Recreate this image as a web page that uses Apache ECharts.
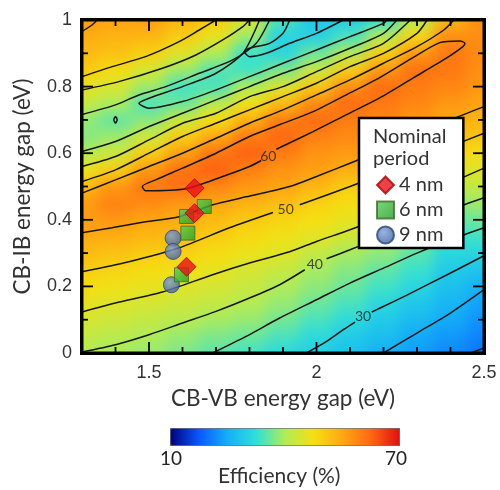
<!DOCTYPE html>
<html><head><meta charset="utf-8">
<script src="https://cdn.jsdelivr.net/npm/echarts@6/dist/echarts.min.js"></script>
<style>
html,body{margin:0;padding:0;background:#fff;width:500px;height:490px;overflow:hidden}
#clip{position:absolute;z-index:1;left:82px;top:20px;width:402px;height:333px;overflow:hidden}
#bg{position:absolute;left:-24px;top:-24px;width:450px;height:381px;filter:blur(7px)}
#main{position:absolute;z-index:5;left:0;top:0;width:500px;height:490px}
#frame{position:absolute;z-index:50;left:80px;top:18px;width:406px;height:337px;box-sizing:border-box;border:3px solid #000;pointer-events:none}
</style></head><body>
<div id="clip"><div id="bg"></div></div>
<div id="main"></div>
<div id="frame"></div>
<script>
// ---------- data ----------
const xGrid = [1.3,1.4,1.5,1.6,1.7,1.8,1.9,2.0,2.1,2.2,2.3,2.4,2.5];
const yGrid = [0,0.05,0.1,0.15,0.2,0.25,0.3,0.35,0.4,0.45,0.5,0.55,0.6,0.65,0.7,0.75,0.8,0.85,0.9,0.95,1.0];
// efficiency (%) per column x, from y=0 to y=1
const effX130 = [40,42,44,46,48,50,52.5,54.5,56.5,56.5,53,47,40.5,37.5,38.5,42,46,50.5,52.5,54.5,56.5];
const effX140 = [39.5,41,43,45,47,49,51.5,54,57,59.5,57,50,43,39,35.5,40,44,48,51.5,53.5,55.5];
const effX150 = [38.5,40,42,44,46,48,50,53,55,58.5,60.5,57,50,43,38,34,39,44,49.5,53,56];
const effX160 = [37,38.5,41,43,45,47,49.5,52,54.5,57,61.5,61.5,56,50,43,36,33.5,39,45,50,53];
const effX170 = [35,37,39.5,42,44,46,48,50,52.5,55,59,63,61,55,48,41,34,34.5,40,46,50];
const effX180 = [33.5,36,38.5,40.5,42.5,44,46.5,48.5,50.5,53.5,57,59.5,63,60,54,47,40,33.5,33,39,44];
const effX190 = [31,34,36.5,38.5,40,42.5,45,47,49,52,55.5,57.5,60,62.5,60,52.5,45,37,31,30.5,34];
const effX200 = [29.5,31.5,34,36,38,39.5,42,45.5,47.5,49.5,53,56,57.5,59.5,62,58.5,51,43,36,30,29];
const effX210 = [27.5,29,31.5,34,36,37.5,39.5,43.5,46,48,50,54,56.5,58.5,60,62,58,50,41,34,29.5];
const effX220 = [25,27,29,31,33.5,35.5,38,40,44,46.5,49,51.5,55,57,59,60.5,62,57,50,41,33];
const effX230 = [23.5,24.5,26.5,28.5,31,33,35,37.5,40,44,46.5,49,52,55,57,59,60,61.5,57,49,41];
const effX240 = [21.5,23,24.5,26,27.5,29,31,33,35,38,41.5,45,48.5,51.5,55,57,59,60.5,60.5,58,53];
const effX250 = [19.8,21.2,22.5,23.8,25.3,28,30.6,33.5,36.3,39,42,45,48,51,53.5,55.5,57,58,58.5,58,58];
const effColumns = [effX130,effX140,effX150,effX160,effX170,effX180,effX190,effX200,effX210,effX220,effX230,effX240,effX250];

// contour lines (x eV, y eV)
const c20 = [[2.46,0],[2.5,0.015]];
const c25 = [[2.2,0],[2.3,0.06],[2.4,0.12],[2.5,0.19]];
const c30a = [[1.97,0],[2.03,0.035],[2.08,0.07],[2.115,0.093]];
const c30b = [[2.165,0.123],[2.19,0.135],[2.27,0.174],[2.39,0.235],[2.5,0.292]];
const c35 = [[1.69,0],[1.79,0.05],[1.89,0.105],[2.0,0.16],[2.1,0.21],[2.2,0.255],[2.3,0.3],[2.4,0.34],[2.5,0.376]];
const c40a = [[1.3,0.003],[1.4,0.025],[1.5,0.055],[1.6,0.09],[1.7,0.125],[1.8,0.165],[1.89,0.205],[1.965,0.25]];
const c40b = [[2.03,0.283],[2.1,0.31],[2.2,0.35],[2.3,0.39],[2.4,0.43],[2.5,0.466]];
const c45 = [[1.3,0.123],[1.4,0.15],[1.54,0.183],[1.69,0.235],[1.8,0.27],[1.92,0.304],[2.0,0.335],[2.1,0.37],[2.2,0.41],[2.3,0.46],[2.4,0.51],[2.5,0.555]];
const c50a = [[1.3,0.244],[1.44,0.274],[1.59,0.316],[1.74,0.376],[1.87,0.422]];
const c50b = [[1.95,0.445],[2.1,0.5],[2.2,0.54],[2.3,0.58],[2.4,0.62],[2.5,0.66]];
const c55 = [[1.3,0.361],[1.39,0.376],[1.49,0.394],[1.59,0.409],[1.69,0.445],[1.79,0.469],[1.92,0.5],[2.0,0.53],[2.1,0.57],[2.2,0.61],[2.3,0.65],[2.4,0.7],[2.5,0.74]];
const c60a = [[1.88,0.612],[1.99,0.665],[2.09,0.716],[2.19,0.767],[2.29,0.827],[2.39,0.887],[2.437,0.92],[2.443,0.93],[2.428,0.937],[2.368,0.932],[2.288,0.887],[2.189,0.827],[2.09,0.776],[1.99,0.725],[1.891,0.686],[1.8,0.65],[1.7,0.6],[1.6,0.555],[1.52,0.52],[1.48,0.5],[1.49,0.487],[1.61,0.493],[1.72,0.53],[1.8,0.56],[1.835,0.578]];
const c55u = [[1.3,0.48],[1.4,0.52],[1.5,0.56],[1.6,0.6],[1.7,0.645],[1.8,0.69],[1.9,0.73],[2.0,0.775],[2.1,0.82],[2.2,0.87],[2.3,0.92],[2.38,0.97],[2.41,1.0]];
const c50u = [[1.3,0.515],[1.4,0.55],[1.5,0.6],[1.6,0.65],[1.7,0.69],[1.8,0.73],[1.9,0.77],[2.0,0.81],[2.1,0.86],[2.2,0.9],[2.3,0.96],[2.33,1.0]];
const c45u = [[1.3,0.56],[1.4,0.59],[1.5,0.64],[1.6,0.69],[1.7,0.72],[1.8,0.77],[1.9,0.8],[2.0,0.845],[2.1,0.89],[2.2,0.93],[2.28,1.0]];
const c40u = [[1.3,0.605],[1.4,0.635],[1.5,0.68],[1.6,0.72],[1.7,0.76],[1.8,0.8],[1.9,0.84],[2.0,0.875],[2.1,0.915],[2.2,0.96],[2.24,1.0]];
const c35loop = [[1.83,1.0],[1.78,0.9],[1.7,0.84],[1.6,0.8],[1.5,0.765],[1.47,0.75],[1.5,0.735],[1.6,0.755],[1.7,0.79],[1.8,0.83],[1.9,0.87],[2.0,0.91],[2.1,0.95],[2.2,0.99],[2.21,1.0]];
const c30loop = [[1.92,1.0],[1.9,0.96],[1.86,0.93],[1.8,0.915],[1.785,0.905],[1.8,0.89],[1.85,0.9],[1.92,0.93],[2.0,0.96],[2.08,1.0]];
const c35tiny = [[1.4,0.69],[1.405,0.7],[1.4,0.71],[1.395,0.7],[1.4,0.69]];
const c40ul = [[1.3,0.716],[1.4,0.745],[1.47,0.775],[1.55,0.8],[1.65,0.84],[1.75,0.88],[1.82,0.93],[1.86,1.0]];
const c45ul = [[1.3,0.79],[1.41,0.815],[1.54,0.855],[1.64,0.895],[1.72,0.94],[1.78,0.98],[1.8,1.0]];
const c50ul = [[1.3,0.83],[1.39,0.86],[1.49,0.89],[1.59,0.935],[1.65,0.97],[1.7,1.0]];
const c55ul = [[1.3,0.966],[1.33,0.985],[1.345,1.0]];
const contourLines = [c20,c25,c30a,c30b,c35,c40a,c40b,c45,c50a,c50b,c55,c60a,c55u,c50u,c45u,c40u,c35loop,c30loop,c35tiny,c40ul,c45ul,c50ul,c55ul];
const contourLabels = [[1.856,0.59,'60'],[1.908,0.43,'50'],[1.995,0.267,'40'],[2.139,0.109,'30']];

// measured samples
const period4nm = [[1.636,0.495],[1.636,0.42],[1.612,0.259]];
const period6nm = [[1.665,0.44],[1.612,0.41],[1.616,0.36],[1.597,0.235]];
const period9nm = [[1.572,0.345],[1.572,0.305],[1.567,0.205]];
const seriesNames = ['4 nm','6 nm','9 nm'];

// axis ticks
const xTicks = [1.3,1.4,1.5,1.6,1.7,1.8,1.9,2.0,2.1,2.2,2.3,2.4,2.5];
const xTickLabels = [1.5,2,2.5];
const yTicks = [0,0.1,0.2,0.3,0.4,0.5,0.6,0.7,0.8,0.9,1.0];
const yTickLabels = [0,0.2,0.4,0.6,0.8,1];
const colorbarLimits = [10,70];

// ---------- styles ----------
const jet = ['#00007f','#0a58ff','#14b0f8','#30e0d8','#b0ec58','#f5e012','#ffa812','#ff6812','#e01010'];
const FONT = 'Lato';
const xMin=1.3,xMax=2.5,yMin=0,yMax=1;
const xStep = 0.1, yStep = 0.05;
const INK = '#000';
const PLOT = {left:82,top:20,width:402,height:333};
const MAJOR_PX = 11, MINOR_PX = 6;

// ---------- background (smooth colour field) ----------
const cells = [];
effColumns.forEach((col,i)=>col.forEach((v,j)=>cells.push([xGrid[i],yGrid[j],v])));
const bg = echarts.init(document.getElementById('bg'),null,{renderer:'canvas'});
bg.setOption({
  animation:false,
  grid:{left:24,top:24,width:PLOT.width,height:PLOT.height},
  xAxis:{type:'value',min:xMin,max:xMax,show:false},
  yAxis:{type:'value',min:yMin,max:yMax,show:false},
  visualMap:{show:false,type:'continuous',min:colorbarLimits[0],max:colorbarLimits[1],dimension:2,seriesIndex:0,inRange:{color:jet}},
  series:[{type:'custom',clip:false,data:cells,renderItem:function(params,api){
    const x=api.value(0),y=api.value(1);
    const a=api.coord([x-xStep/2,y+yStep/2]);
    const b=api.coord([x+xStep/2,y-yStep/2]);
    let x0=a[0],y0=a[1],x1=b[0],y1=b[1];
    if(x<=xMin+1e-9)x0-=24; if(x>=xMax-1e-9)x1+=24;
    if(y<=yMin+1e-9)y1+=24; if(y>=yMax-1e-9)y0-=24;
    return {type:'rect',shape:{x:x0-0.5,y:y0-0.5,width:x1-x0+1,height:y1-y0+1},style:{fill:api.visual('color')}};
  }}]
});

// ---------- main chart ----------
const chart = echarts.init(document.getElementById('main'),null,{renderer:'canvas'});
const isIn = (arr,v)=>arr.some(t=>Math.abs(t-v)<1e-6);
const contourSeries = contourLines.map(pts=>({
  type:'line',data:pts,symbol:'none',silent:true,smooth:0.25,
  lineStyle:{color:'#161616',width:1.5},z:3
}));
const dyPerPx = (yMax-yMin)/PLOT.height, dxPerPx = (xMax-xMin)/PLOT.width;
const tickSeries = [];
xTicks.forEach(v=>{
  const L=(isIn(xTickLabels,v)?MAJOR_PX:MINOR_PX)*dyPerPx;
  tickSeries.push([[v,yMin],[v,yMin+L]],[[v,yMax],[v,yMax-L]]);
});
yTicks.forEach(v=>{
  const L=(isIn(yTickLabels,v)?MAJOR_PX:MINOR_PX)*dxPerPx;
  tickSeries.push([[xMin,v],[xMin+L,v]],[[xMax,v],[xMax-L,v]]);
});
const tickLineSeries = tickSeries.map(seg=>({type:'line',data:seg,symbol:'none',silent:true,clip:false,
  lineStyle:{color:INK,width:1.8},z:8}));
chart.setOption({
  animation:false,
  grid:Object.assign({show:false},PLOT),
  xAxis:{type:'value',min:xMin,max:xMax,interval:0.1,
     axisLine:{show:false},splitLine:{show:false},axisTick:{show:false},
     axisLabel:{margin:11,fontSize:18,color:'#333',fontFamily:'Liberation Sans',
       formatter:v=>isIn(xTickLabels,v)?String(+v.toFixed(1)):''},
     name:'CB-VB energy gap (eV)',nameLocation:'middle',nameGap:33,
     nameTextStyle:{fontSize:22.5,color:'#333',fontFamily:FONT}},
  yAxis:{type:'value',min:yMin,max:yMax,interval:0.2,
     axisLine:{show:false},splitLine:{show:false},axisTick:{show:false},
     axisLabel:{margin:10,fontSize:18,color:'#333',fontFamily:'Liberation Sans'},
     name:'CB-IB energy gap (eV)',nameLocation:'middle',nameGap:48,nameRotate:90,
     nameTextStyle:{fontSize:22.5,color:'#333',fontFamily:FONT}},
  visualMap:{type:'continuous',seriesIndex:[],min:colorbarLimits[0],max:colorbarLimits[1],orient:'horizontal',
    left:170,top:428,itemWidth:17,itemHeight:229,calculable:false,hoverLink:false,
    padding:0,borderColor:'#555',borderWidth:1,text:null,showLabel:false,inRange:{color:jet}},
  legend:{data:seriesNames,orient:'vertical',left:359,top:118,
    padding:[57,20,3,17],itemGap:5,itemWidth:17,itemHeight:17,
    backgroundColor:'#fff',borderColor:INK,borderWidth:2.5,
    textStyle:{fontSize:20,color:'#333',fontFamily:FONT},z:20},
  graphic:[
    {type:'text',left:373,top:126,z:100,style:{text:'Nominal\nperiod',fontSize:20,lineHeight:22,fill:'#333',fontFamily:FONT}},
    {type:'text',left:160,top:449,z:100,style:{text:String(colorbarLimits[0]),fontSize:19,fill:'#222',fontFamily:FONT}},
    {type:'text',left:385,top:449,z:100,style:{text:String(colorbarLimits[1]),fontSize:19,fill:'#222',fontFamily:FONT}},
    {type:'text',left:218,top:466,z:100,style:{text:'Efficiency (%)',fontSize:21,fill:'#333',fontFamily:FONT}}
  ],
  series:[
    ...contourSeries,
    ...tickLineSeries,
    {type:'scatter',data:contourLabels,symbolSize:0,silent:true,z:4,
     label:{show:true,position:'inside',formatter:p=>p.data[2],fontSize:14,color:'#222',fontFamily:FONT}},
    {name:seriesNames[2],type:'scatter',data:period9nm,symbol:'circle',symbolSize:16,z:5,
     itemStyle:{color:new echarts.graphic.RadialGradient(0.4,0.35,0.7,[{offset:0,color:'#7f9fd8'},{offset:1,color:'#3c5c9c'}]),borderColor:'#2c4678',borderWidth:1}},
    {name:seriesNames[1],type:'scatter',data:period6nm,symbol:'rect',symbolSize:14,z:6,
     itemStyle:{color:new echarts.graphic.LinearGradient(0,0,1,1,[{offset:0,color:'#5ad25a'},{offset:1,color:'#1f9a23'}]),borderColor:'#3d6b2a',borderWidth:1}},
    {name:seriesNames[0],type:'scatter',data:period4nm,symbol:'diamond',symbolSize:19,z:7,
     itemStyle:{color:'#e8121a',borderColor:'#a0080c',borderWidth:1}}
  ]
});
// plot frame drawn through the chart's own scales
const tl = chart.convertToPixel({gridIndex:0},[xMin,yMax]);
const br = chart.convertToPixel({gridIndex:0},[xMax,yMin]);
chart.setOption({graphic:[{id:'plotFrame',type:'rect',z:150,silent:true,
  shape:{x:tl[0],y:tl[1],width:br[0]-tl[0],height:br[1]-tl[1]},
  style:{fill:'none',stroke:INK,lineWidth:3}}]});
</script>
</body></html>
